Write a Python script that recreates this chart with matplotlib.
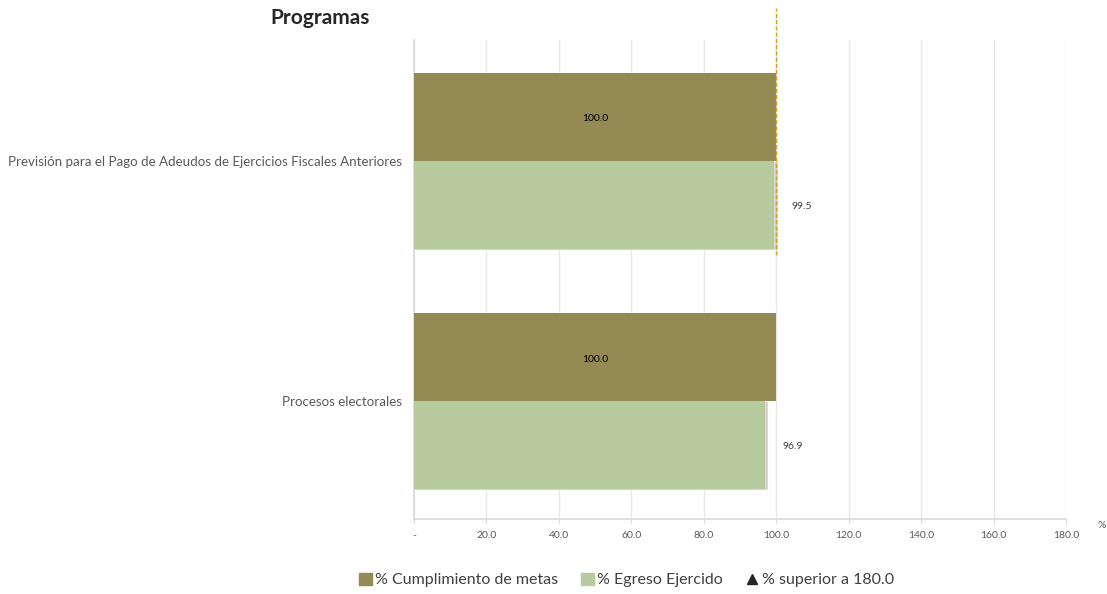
import matplotlib
matplotlib.use("Agg")
import matplotlib.pyplot as plt
from matplotlib.lines import Line2D
from matplotlib.patches import Patch

plt.rcParams['font.family'] = ['Lato', 'DejaVu Sans']

categories = ["Previsión para el Pago de Adeudos de Ejercicios Fiscales Anteriores",
              "Procesos electorales"]
cumplimiento = [100.0, 100.0]
egreso = [99.5, 96.9]
xticks = [0, 20, 40, 60, 80, 100, 120, 140, 160, 180]
xticklabels = ["-", "20.0", "40.0", "60.0", "80.0", "100.0", "120.0", "140.0", "160.0", "180.0"]

c_dark = "#948A54"
c_green = "#B7CB9E"

fig = plt.figure(figsize=(11.07, 5.94), dpi=100)
ax = fig.add_axes([0.374, 0.1263, 0.589, 0.8064])

h = 0.367
ypos = list(range(len(categories)))
for i, y in enumerate(ypos):
    # shadow
    ax.barh(y + h / 2 + 0.004, egreso[i] + 0.9, height=h, color="#d6d6d6", zorder=2)
    ax.barh(y + h / 2, egreso[i], height=h, color=c_green, zorder=3)
    ax.barh(y - h / 2, cumplimiento[i], height=h, color=c_dark, zorder=3)
    ax.text(cumplimiento[i] / 2, y - h / 2 + 0.008, f"{cumplimiento[i]:.1f}", ha="center", va="center",
            fontsize=7.5, color="#000000", zorder=4)
    ax.text(egreso[i] + 4.8, y + h / 2 + 0.004, f"{egreso[i]:.1f}", ha="left", va="center",
            fontsize=7.5, color="#404040", zorder=4)

ax.set_xlim(0, 180)
ax.set_ylim(1.49, -0.504)
ax.set_yticks(ypos)
ax.set_yticklabels(categories, fontsize=9.6, color="#595959")
ax.tick_params(axis="y", length=0, pad=8.5)
ax.set_xticks(xticks)
ax.set_xticklabels(xticklabels, fontsize=7.5, color="#595959")
ax.tick_params(axis="x", length=3, color="#d9d9d9", pad=6)
ax.grid(axis="x", color="#e8e8e8", linewidth=1, zorder=0)
ax.set_axisbelow(True)
for s in ["top", "right"]:
    ax.spines[s].set_visible(False)
ax.spines["left"].set_color("#d9d9d9")
ax.spines["bottom"].set_color("#d9d9d9")
ax.spines["left"].set_linewidth(1.2)
ax.spines["bottom"].set_linewidth(1.2)

ax.axvline(100, ymin=0.551, ymax=1.067, color="#D4A017", linestyle=(0, (3, 1.5)),
           linewidth=1, clip_on=False, zorder=5)

ax.text(1.055, -0.005, "%", transform=ax.transAxes, fontsize=7.5, color="#595959",
        ha="center", va="top")

fig.text(270 / 1107, 1 - 18 / 594, "Programas", fontsize=15, fontweight="bold",
         color="#262626", ha="left", va="center")

handles = [Patch(color=c_dark), Patch(color=c_green),
           Line2D([], [], marker="^", color="#262626", linestyle="none", markersize=6.5)]
labels = ["% Cumplimiento de metas", "% Egreso Ejercido", "% superior a 180.0"]
leg = fig.legend(handles, labels, loc="center", bbox_to_anchor=(0.566, 1 - 580 / 594), ncol=3,
                 frameon=False, fontsize=11.5, handlelength=0.8, handleheight=0.8,
                 handletextpad=0.2, columnspacing=1.45)
for t in leg.get_texts():
    t.set_color("#404040")

fig.savefig("out.png", dpi=100)
